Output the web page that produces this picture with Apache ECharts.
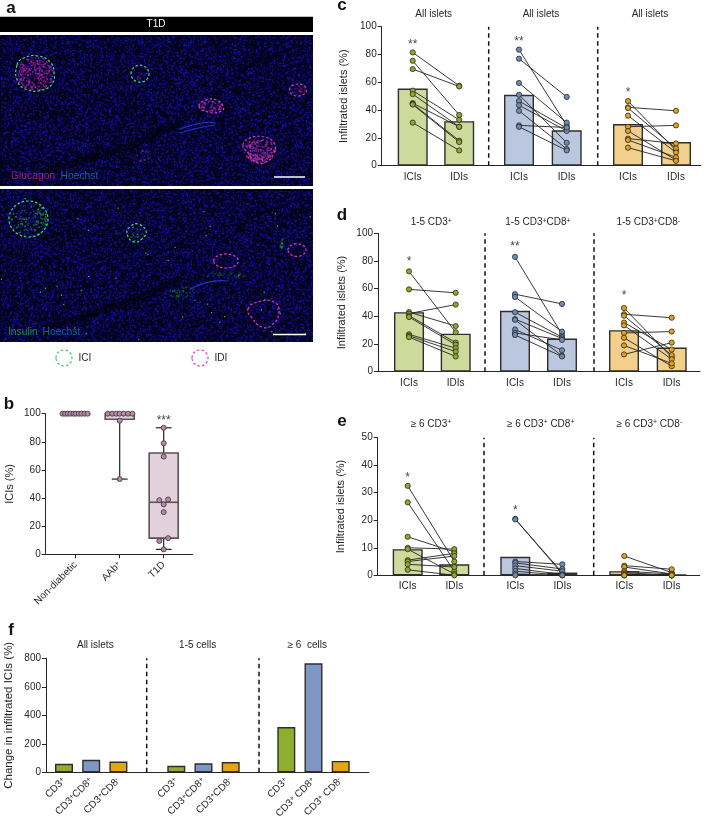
<!DOCTYPE html>
<html><head><meta charset="utf-8">
<style>html,body{margin:0;padding:0;background:#fff}#chart{width:708px;height:816px}</style>
<script src="https://cdn.jsdelivr.net/npm/echarts@6/dist/echarts.min.js"></script>
</head><body><div id="chart"></div>
<script>
// ---------- DATA ----------
const pair_categories = ['ICIs', 'IDIs'];
const c_titles = ['All islets', 'All islets', 'All islets'];
const d_titles = ['1-5 CD3+', '1-5 CD3+CD8+', '1-5 CD3+CD8-'];
const e_titles = ['≥ 6 CD3+', '≥ 6 CD3+ CD8+', '≥ 6 CD3+ CD8-'];
const f_titles = ['All islets', '1-5 cells', '≥ 6  cells'];

const c_bars = [[55.5, 32], [51, 25.5], [30, 17]];
const c_green_ici = [81.5, 75.5, 69.5, 54, 51.5, 45, 44.5, 44, 31];
const c_green_idi = [57.5, 36.5, 57, 33, 28, 28, 18, 17, 11];
const c_blue_ici = [83.5, 77, 59.5, 51, 46.5, 43.5, 39.5, 29, 28];
const c_blue_idi = [29, 49.5, 31, 16.5, 27, 25, 12, 27.5, 11];
const c_orange_ici = [46.5, 42, 41.5, 36, 28, 25, 19.5, 18.5, 13];
const c_orange_idi = [11, 39.5, 12.5, 9.5, 29, 4, 16, 6, 3.5];
const c_stars = ['**', '**', '*'];
const c_star_values = [87.2, 89.2, 52.2];

const d_bars = [[43, 27.5], [44, 24], [30, 17.5]];
const d_green_ici = [72.5, 59.5, 43, 42, 40.5, 39.5, 27, 26, 25];
const d_green_idi = [28.5, 57, 33, 48.5, 21, 19.5, 17, 14.5, 11];
const d_blue_ici = [83, 56, 54, 43, 38, 37.5, 30.5, 28, 26.5];
const d_blue_idi = [27, 49, 29, 25, 24, 11.5, 15.5, 23, 11];
const d_orange_ici = [46, 41.5, 40.5, 35.5, 33.5, 28, 24.5, 19, 12.5];
const d_orange_idi = [10.5, 39, 12, 16, 9, 29, 4, 6, 21];
const d_stars = ['*', '**', '*'];
const d_star_values = [79.2, 90.2, 55.2];

const e_bars = [[9.5, 4], [6.7, 1], [1.5, 0.3]];
const e_green_ici = [32.5, 26.5, 14, 10, 9.5, 5.5, 5, 4, 2];
const e_green_idi = [5, 1.5, 8.5, 9.5, 0.5, 8, 7, 3, 0];
const e_blue_ici = [20.5, 20.3, 5, 4.5, 3.5, 2.5, 1.5, 0.5, 0];
const e_blue_idi = [0.5, 1, 4, 2.3, 1.5, 0.3, 0, 0, 0];
const e_orange_ici = [7, 3.5, 3, 1.5, 1, 0.5, 0, 0, 0];
const e_orange_idi = [1, 2.2, 0.5, 0.5, 0, 0, 0, 0, 0];
const e_stars = ['*', '*', ''];
const e_star_values = [35.6, 23.6, 0];

const f_categories = ['CD3+', 'CD3+CD8+', 'CD3+CD8-'];
const f_categories_high = ['CD3+', 'CD3+ CD8+', 'CD3+ CD8-'];
const f_all = [60, 88, 75];
const f_low = [46, 63, 72];
const f_high = [318, 765, 80];

const b_categories = ['Non-diabetic', 'AAb+', 'T1D'];
// min, Q1, median, Q3, max
const b_non_diabetic = [100, 100, 100, 100, 100];
const b_aab = [53.5, 96, 100, 100, 100];
const b_t1d = [3.5, 11.5, 37, 72, 90];
// [group index + swarm spread, value]
const b_points = [
  [-0.3, 100], [-0.24, 100], [-0.18, 100], [-0.12, 100], [-0.05, 100], [0, 100], [0.07, 100], [0.13, 100], [0.2, 100], [0.27, 100],
  [0.73, 100], [0.83, 100], [0.92, 100], [1, 100], [1.09, 100], [1.19, 100], [1.29, 100], [1, 95], [1, 53.5],
  [2, 90], [2, 79], [2, 69.5], [2.1, 39], [1.9, 38.5], [2, 35.5], [2, 30], [2.1, 11.5], [1.9, 9.5], [2, 3.5]
];

// ---------- STYLE ----------
const FONT = '"Liberation Sans", Arial, sans-serif';
const INK = '#262626';
const SOFT = { green: '#CEDA9C', blue: '#BAC7DF', orange: '#F2CF8C' };
const SOLID = { green: '#8FA82C', blue: '#7089BC', orange: '#E2A11A' };
const FLAT = { green: '#8FAE2E', blue: '#7F97C4', orange: '#E5A50F' };
const PALETTE = ['green', 'blue', 'orange'];
const BOX_FILL = '#E2D0DB', BOX_LINE = '#5c5258', DOT_FILL = '#B48AA4', DOT_LINE = '#4d3a48';

const rich = { s: { fontSize: 7, fontFamily: FONT, color: INK, verticalAlign: 'top', lineHeight: 8 } };
const richText = t => t.replace(/CD(\d)([+-])/g, 'CD$1{s|$2}').replace(/AAb\+/, 'AAb{s|+}');

const option = { animation: false, backgroundColor: '#fff', title: [], grid: [], xAxis: [], yAxis: [], series: [], graphic: [] };

function addTitle(text, x, y, size, weight) {
  option.title.push({
    text: richText(text), left: x, top: y, padding: 0, textAlign: 'center', textVerticalAlign: 'middle',
    textStyle: { fontFamily: FONT, fontSize: size || 10, fontWeight: weight || 'normal', color: weight ? '#111' : INK, rich }
  });
}
function addGrid(left, top, width, height) {
  option.grid.push({ left, top, width, height, containLabel: false, outerBoundsMode: 'none' });
  return option.grid.length - 1;
}
function frame(g) {
  const idx = addGrid(g.left, g.top, g.width, g.height);
  const ax = option.xAxis.length, ay = option.yAxis.length;
  option.xAxis.push({ type: 'value', gridIndex: idx, min: 0, max: g.width, axisLine: { show: true, onZero: false, lineStyle: { color: INK, width: 1 } }, axisTick: { show: false }, axisLabel: { show: false }, splitLine: { show: false } });
  option.yAxis.push({
    type: 'value', gridIndex: idx, min: 0, max: g.max, interval: g.interval, name: g.name, nameLocation: 'middle', nameGap: g.nameGap,
    nameTextStyle: { fontFamily: FONT, fontSize: g.nameSize || 11, color: INK },
    axisLine: { show: true, lineStyle: { color: INK, width: 1 } }, axisTick: { show: true, length: 4, lineStyle: { color: INK } },
    axisLabel: { fontFamily: FONT, fontSize: 10, color: INK, margin: 5 }, splitLine: { show: false }
  });
  (g.dividers || []).forEach(x => option.series.push({
    type: 'line', xAxisIndex: ax, yAxisIndex: ay, data: [[x - g.left, 0], [x - g.left, g.max]], symbol: 'none', silent: true, z: 1,
    lineStyle: { color: '#111', width: 1.5, type: [4.5, 3.5] }
  }));
}
function subGrid(g, center, band, categories, labelOpt) {
  const idx = addGrid(center - band / 2, g.top, band * categories.length, g.height);
  const ax = option.xAxis.length, ay = option.yAxis.length;
  option.xAxis.push({
    type: 'category', gridIndex: idx, data: categories, axisLine: { show: false }, axisTick: { show: false },
    axisLabel: Object.assign({ interval: 0, fontFamily: FONT, fontSize: 10, color: INK, margin: 7, hideOverlap: false, rich, formatter: richText }, labelOpt || {})
  });
  option.yAxis.push({ type: 'value', gridIndex: idx, min: 0, max: g.max, show: false });
  return { ax, ay };
}
function pairPanel(g, bars, icis, idis, stars, starValues) {
  frame(g);
  g.centers.forEach((c, i) => {
    const band = g.bands[i];
    const { ax, ay } = subGrid(g, c, band, pair_categories, { margin: g.labelMargin });
    const col = PALETTE[i];
    option.series.push({
      type: 'bar', xAxisIndex: ax, yAxisIndex: ay, data: bars[i], barWidth: 30, z: 2,
      itemStyle: { color: SOFT[col], borderColor: '#2e2e2e', borderWidth: 1.4 }
    });
    icis[i].forEach((v, k) => option.series.push({
      type: 'line', xAxisIndex: ax, yAxisIndex: ay, data: [v, idis[i][k]], z: 3, clip: false,
      symbol: 'circle', symbolSize: 5.2, showSymbol: true,
      itemStyle: { color: SOLID[col], borderColor: '#2a2a20', borderWidth: 0.8 },
      lineStyle: { color: '#222', width: 0.9 }
    }));
    if (stars[i]) option.series.push({
      type: 'scatter', xAxisIndex: ax, yAxisIndex: ay, data: [[0, starValues[i]]], symbolSize: 1, itemStyle: { color: 'rgba(0,0,0,0)' }, z: 4,
      label: { show: true, position: 'inside', formatter: stars[i], fontFamily: FONT, fontSize: 12, color: '#111' }
    });
  });
}

// ---------- PANELS c, d, e ----------
pairPanel({ left: 381.7, top: 26.7, width: 319, height: 139, max: 100, interval: 20, name: 'Infiltrated islets (%)', nameGap: 32,
  dividers: [488.7, 597.7], centers: [412.7, 519, 628], bands: [46.5, 47.7, 48], labelMargin: 7 },
  c_bars, [c_green_ici, c_blue_ici, c_orange_ici], [c_green_idi, c_blue_idi, c_orange_idi], c_stars, c_star_values);
pairPanel({ left: 378, top: 233.3, width: 322, height: 138.4, max: 100, interval: 20, name: 'Infiltrated islets (%)', nameGap: 31,
  dividers: [485, 594], centers: [409, 515, 624], bands: [46.7, 47, 47.7], labelMargin: 7 },
  d_bars, [d_green_ici, d_blue_ici, d_orange_ici], [d_green_idi, d_blue_idi, d_orange_idi], d_stars, d_star_values);
pairPanel({ left: 377.7, top: 437.7, width: 322, height: 137.6, max: 50, interval: 10, name: 'Infiltrated islets (%)', nameGap: 31,
  dividers: [484, 593.7], centers: [407.7, 515.3, 624.3], bands: [46.6, 47, 47.4], labelMargin: 6 },
  e_bars, [e_green_ici, e_blue_ici, e_orange_ici], [e_green_idi, e_blue_idi, e_orange_idi], e_stars, e_star_values);

c_titles.forEach((t, i) => addTitle(t, [433.7, 541, 650][i], 14.7));
d_titles.forEach((t, i) => addTitle(t, [431.3, 538, 648.3][i], 222.3));
e_titles.forEach((t, i) => addTitle(t, [431, 540.7, 649.3][i], 424));

// ---------- PANEL f ----------
const fGeom = { left: 46, top: 658.3, width: 323, height: 114, max: 800, interval: 200, name: 'Change in infiltrated ICIs (%)', nameGap: 31, nameSize: 11.5,
  dividers: [146.7, 259] };
frame(fGeom);
[f_all, f_low, f_high].forEach((vals, i) => {
  const { ax, ay } = subGrid(fGeom, [64, 176.3, 286.3][i], 27.2, i === 2 ? f_categories_high : f_categories, { rotate: 45, margin: 7 });
  option.series.push({
    type: 'bar', xAxisIndex: ax, yAxisIndex: ay, barWidth: 18, z: 2,
    data: vals.map((v, k) => ({ value: v, itemStyle: { color: FLAT[PALETTE[k]], borderColor: '#2e2e2e', borderWidth: 1.4 } }))
  });
});
f_titles.forEach((t, i) => addTitle(t, [95.3, 197.7, 307.3][i], 645.7));

// ---------- PANEL b ----------
const bGeom = { left: 45.7, top: 413.7, width: 147, height: 140.6, max: 100, interval: 20, name: 'ICIs (%)', nameGap: 30 };
frame(bGeom);
{
  const idx = addGrid(53.7, bGeom.top, 132, bGeom.height);
  const catAxis = option.xAxis.length;
  option.xAxis.push({
    type: 'category', gridIndex: idx, data: b_categories, axisLine: { show: false },
    axisTick: { show: true, alignWithLabel: true, length: 4, lineStyle: { color: INK } },
    axisLabel: { interval: 0, rotate: 45, fontFamily: FONT, fontSize: 10, color: INK, margin: 9, hideOverlap: false, rich, formatter: richText }
  });
  const valAxis = option.xAxis.length;
  option.xAxis.push({ type: 'value', gridIndex: idx, min: -0.5, max: 2.5, show: false, position: 'top' });
  const ay = option.yAxis.length;
  option.yAxis.push({ type: 'value', gridIndex: idx, min: 0, max: 100, show: false });
  const boxes = [b_non_diabetic, b_aab, b_t1d].map((b, i) => [i].concat(b));
  option.series.push({
    type: 'custom', xAxisIndex: valAxis, yAxisIndex: ay, data: boxes, clip: false, z: 2,
    renderItem(params, api) {
      const i = api.value(0), min = api.coord([i, api.value(1)]), q1 = api.coord([i, api.value(2)]), med = api.coord([i, api.value(3)]),
        q3 = api.coord([i, api.value(4)]), max = api.coord([i, api.value(5)]);
      const bl = api.coord([i - 0.33, 0])[0], br = api.coord([i + 0.33, 0])[0], cl = api.coord([i - 0.18, 0])[0], cr = api.coord([i + 0.18, 0])[0];
      const ln = (x1, y1, x2, y2, w) => ({ type: 'line', shape: { x1, y1, x2, y2 }, style: { stroke: w ? BOX_LINE : '#222', lineWidth: w || 1.2, fill: null } });
      return { type: 'group', children: [
        ln(min[0], min[1], min[0], q1[1]), ln(max[0], max[1], max[0], q3[1]),
        ln(cl, min[1], cr, min[1]), ln(cl, max[1], cr, max[1]),
        { type: 'rect', shape: { x: bl, y: q3[1], width: br - bl, height: q1[1] - q3[1] }, style: { fill: BOX_FILL, stroke: BOX_LINE, lineWidth: 1.6 } },
        ln(bl, med[1], br, med[1], 1.6)
      ] };
    }
  });
  option.series.push({
    type: 'scatter', xAxisIndex: valAxis, yAxisIndex: ay, data: b_points, symbolSize: 5, clip: false, z: 3,
    itemStyle: { color: DOT_FILL, borderColor: DOT_LINE, borderWidth: 0.9, opacity: 1 }
  });
  option.series.push({
    type: 'scatter', xAxisIndex: catAxis, yAxisIndex: ay, data: [[2, 95]], symbolSize: 1, itemStyle: { color: 'rgba(0,0,0,0)' }, z: 4,
    label: { show: true, position: 'inside', formatter: '***', fontFamily: FONT, fontSize: 12, color: '#111' }
  });
}

// ---------- PANEL a (micrograph texture, purely decorative) ----------
function micrograph(w, h, seed, paint) {
  const cv = document.createElement('canvas'); cv.width = w; cv.height = h;
  const ctx = cv.getContext('2d');
  let s = seed >>> 0;
  const rnd = () => (s = (Math.imul(s, 1664525) + 1013904223) >>> 0) / 4294967296;
  ctx.fillStyle = '#03031a'; ctx.fillRect(0, 0, w, h);
  // patchy speckle of nuclei
  for (let i = 0; i < w * h * 0.24; i++) {
    const x = rnd() * w, y = rnd() * h, a = 0.22 + rnd() * 0.55;
    ctx.fillStyle = `rgba(${15 + rnd() * 20 | 0},${10 + rnd() * 18 | 0},${145 + rnd() * 90 | 0},${a})`;
    ctx.fillRect(x, y, 1 + rnd() * 0.8, 1 + rnd() * 0.8);
  }
  // dark ducts
  ctx.lineCap = 'round';
  [[[48, h - 14], [90, h - 28], [135, h - 42], [178, h - 62]], [[225, 52], [252, 28], [290, 14]]].forEach((p, n) => {
    ctx.strokeStyle = 'rgba(1,1,10,0.55)';
    ctx.lineWidth = n ? 3 : 7; ctx.beginPath(); p.forEach((q, k) => k ? ctx.lineTo(q[0], q[1]) : ctx.moveTo(q[0], q[1])); ctx.stroke();
  });
  const speck = (cx, cy, rx, ry, n, color) => {
    for (let i = 0; i < n; i++) {
      const t = rnd() * 6.283, r = Math.sqrt(rnd());
      ctx.fillStyle = color; ctx.globalAlpha = 0.25 + rnd() * 0.5;
      ctx.fillRect(cx + Math.cos(t) * r * rx, cy + Math.sin(t) * r * ry, 1.5, 1.5);
    }
    ctx.globalAlpha = 1;
  };
  const scatter = (n, color) => { for (let i = 0; i < n; i++) { ctx.fillStyle = color; ctx.fillRect(rnd() * w, rnd() * h, 1.2, 1.2); } };
  paint(ctx, speck, scatter);
  ctx.filter = 'blur(0.5px)'; ctx.drawImage(cv, 0, 0); ctx.filter = 'none';
  return cv;
}
const imgTop = micrograph(313, 151, 7, (ctx, speck) => {
  speck(35, 38, 19, 17, 300, '#b82aa0'); speck(211, 71, 11, 6, 60, '#b82aa0');
  speck(259, 115, 16, 12, 240, '#c435ac'); speck(298, 55, 7, 5, 20, '#a02890'); speck(140, 39, 6, 6, 8, '#a02890');
  speck(142, 120, 8, 6, 22, '#7a2a90');
  ctx.strokeStyle = '#2233cc'; ctx.lineWidth = 1.2; ctx.beginPath(); ctx.moveTo(180, 94); ctx.quadraticCurveTo(205, 85, 215, 88); ctx.moveTo(180, 98); ctx.quadraticCurveTo(200, 92, 214, 90); ctx.stroke();
});
const imgBottom = micrograph(313, 153, 21, (ctx, speck, scatter) => {
  speck(28, 30, 19, 17, 110, '#2aa84a'); speck(137, 44, 9, 8, 18, '#2aa84a');
  speck(182, 103, 14, 6, 50, '#176a28'); speck(225, 86, 20, 4, 40, '#175a28'); speck(281, 54, 2, 5, 18, '#1f9a3c');
  scatter(40, '#2fc456');
  ctx.strokeStyle = '#2233cc'; ctx.lineWidth = 1.2; ctx.beginPath(); ctx.moveTo(190, 100); ctx.quadraticCurveTo(210, 90, 228, 92); ctx.stroke();
});

const IMG_ICI = '#3ddc62', IMG_IDI = '#e834bb';
const ring = (cx, cy, rx, ry, stroke, dash) => ({
  type: 'ellipse', silent: true, z: 10, shape: { cx, cy, rx, ry },
  style: { fill: 'none', stroke, lineWidth: 1.2, lineDash: dash || [2.5, 2] }
});
const blob = (points, stroke) => ({
  type: 'polygon', silent: true, z: 10, shape: { points, smooth: 0.5 }, style: { fill: 'none', stroke, lineWidth: 1.2, lineDash: [2.5, 2] }
});
const label = (x, y, text, fill, size, align) => ({
  type: 'text', z: 11, silent: true, x, y, style: { text, fill, fontFamily: FONT, fontSize: size || 10, align: align || 'left', verticalAlign: 'middle' }
});
const scaleBar = (x1, x2, y) => ({ type: 'line', z: 11, silent: true, shape: { x1, y1: y, x2, y2: y }, style: { stroke: '#fff', lineWidth: 1.5 } });
option.graphic = [
  { type: 'rect', silent: true, z: 9, shape: { x: 0, y: 16.7, width: 313, height: 15.3 }, style: { fill: '#000' } },
  label(156, 24.3, 'T1D', '#fff', 10, 'center'),
  { type: 'image', silent: true, z: 9, x: 0, y: 35, style: { image: imgTop, x: 0, y: 0, width: 313, height: 151 } },
  { type: 'image', silent: true, z: 9, x: 0, y: 189, style: { image: imgBottom, x: 0, y: 0, width: 313, height: 153 } },
  blob([[17, 65], [24, 58], [38, 56], [50, 62], [54, 72], [52, 84], [42, 90], [28, 90], [18, 82]], IMG_ICI),
  ring(140, 73.7, 9, 8.5, IMG_ICI),
  ring(298, 90, 8.5, 6, IMG_IDI),
  blob([[199, 106], [206, 100], [216, 100], [223, 106], [222, 111], [208, 112]], IMG_IDI),
  blob([[243, 145], [250, 138], [264, 137], [274, 143], [274, 153], [266, 162], [256, 162], [248, 153]], IMG_IDI),
  label(11, 176, 'Glucagon', '#a01e80', 10.3),
  label(60.5, 176, 'Hoechst', '#14609e', 10.3),
  scaleBar(274, 305, 177),
  ring(28.5, 219, 19.5, 18, IMG_ICI),
  blob([[127, 233], [131, 226], [138, 224], [146, 231], [143, 238], [134, 242]], IMG_ICI),
  ring(226, 261, 12.3, 7, IMG_IDI),
  ring(297, 250, 9, 6.3, IMG_IDI),
  blob([[248, 309], [258, 302], [274, 302], [279, 312], [272, 325], [262, 327], [252, 318]], IMG_IDI),
  label(8, 332, 'Insulin', '#1d8a3f', 10.3),
  label(42.5, 332, 'Hoechst', '#14609e', 10.3),
  scaleBar(273, 306, 334.5),
  ring(64, 358, 8, 8, '#2ecb5c', [2.5, 2.2]),
  label(78.5, 358, 'ICI', INK, 10),
  ring(200, 358, 8, 8, '#e834bb', [2.5, 2.2]),
  label(214.5, 358, 'IDI', INK, 10)
];

// ---------- panel letters ----------
[['a', 11, 8], ['b', 9, 404], ['c', 342, 5], ['d', 342, 215], ['e', 342, 421], ['f', 11, 630]].forEach(l => addTitle(l[0], l[1], l[2], 17, 'bold'));

echarts.init(document.getElementById('chart'), null, { renderer: 'canvas' }).setOption(option);
</script></body></html>
